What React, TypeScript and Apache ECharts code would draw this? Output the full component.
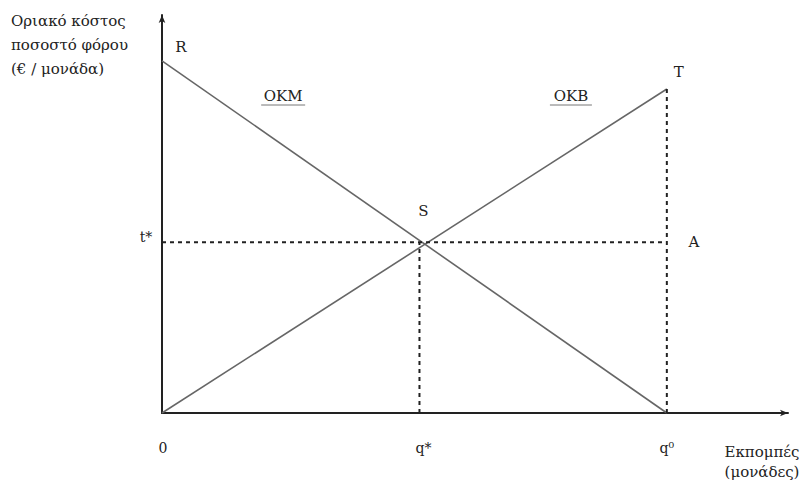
import React, { useEffect, useRef } from "react";
import * as echarts from "echarts";

// Values (axis units)
const xMax = 12.4;
const yMax = 11.3;
const qStar = 5.1;
const q0 = 10;
const tStar = 4.85;
const rValue = 10; // intercept of OKM at q=0
const tValue = 9.2; // OKB at q0
const okmLine: [number, number][] = [[0, rValue], [q0, 0]];
const okbLine: [number, number][] = [[0, 0], [q0, tValue]];
const hDash: [number, number][] = [[0, tStar], [q0, tStar]];
const vDashQStar: [number, number][] = [[qStar, 0], [qStar, tStar]];
const vDashQ0: [number, number][] = [[q0, 0], [q0, tValue]];
const yTitle = ["Οριακό κόστος", "ποσοστό φόρου", "(€ / μονάδα)"];
const xTitle = ["Εκπομπές", "(μονάδες)"];

const FONT = "DejaVu Serif";

export default function App() {
  const ref = useRef<HTMLDivElement>(null);
  useEffect(() => {
    if (!ref.current) return;
    const chart = echarts.init(ref.current, undefined, { renderer: "svg" });
    const dashStyle = { color: "#222", width: 2, type: [4, 4] as any };
    chart.setOption({
      animation: false,
      backgroundColor: "#fff",
      grid: { left: 162, right: 21, top: 15, bottom: 69 },
      xAxis: {
        type: "value",
        min: 0,
        max: xMax,
        axisLine: { show: true, onZero: false, lineStyle: { color: "#222", width: 2 }, symbol: ["none", "arrow"], symbolSize: [5, 8] },
        axisTick: { show: false },
        axisLabel: { show: false },
        splitLine: { show: false },
      },
      yAxis: {
        type: "value",
        min: 0,
        max: yMax,
        axisLine: { show: true, onZero: false, lineStyle: { color: "#222", width: 2 }, symbol: ["none", "arrow"], symbolSize: [5, 8] },
        axisTick: { show: false },
        axisLabel: { show: false },
        splitLine: { show: false },
      },
      series: [
        { type: "line", data: okmLine, showSymbol: false, lineStyle: { color: "#666", width: 1.6 } },
        { type: "line", data: okbLine, showSymbol: false, lineStyle: { color: "#666", width: 1.6 } },
        { type: "line", data: hDash, showSymbol: false, lineStyle: dashStyle },
        { type: "line", data: vDashQStar, showSymbol: false, lineStyle: dashStyle },
        { type: "line", data: vDashQ0, showSymbol: false, lineStyle: dashStyle },
      ],
    });

    const px = (x: number, y: number) => chart.convertToPixel({ gridIndex: 0 }, [x, y]) as number[];
    const o = px(0, 0);
    const r = px(0, rValue);
    const t = px(q0, tValue);
    const s = px(qStar, tStar);
    const a = px(q0, tStar);
    const ts = px(0, tStar);
    const qs = px(qStar, 0);
    const qz = px(q0, 0);
    const okm = px(2.4, 9.0);
    const okb = px(8.1, 9.0);
    const txt = (x: number, y: number, text: string, size = 15, extra: any = {}) => ({
      type: "text",
      x,
      y,
      style: { text, font: `${size}px "${FONT}"`, fill: "#222", textAlign: "center", textVerticalAlign: "middle", ...extra },
    });
    const under = (cx: number, y: number, w: number) => ({
      type: "line",
      shape: { x1: cx - w / 2, y1: y, x2: cx + w / 2, y2: y },
      style: { stroke: "#777", lineWidth: 1 },
    });
    chart.setOption({
      graphic: [
        ...yTitle.map((l, i) => txt(11, 21 + i * 24, l, 15, { textAlign: "left" })),
        txt(r[0] + 19, r[1] - 14, "R"),
        txt(t[0] + 12, t[1] - 17, "T"),
        txt(s[0] + 4, s[1] - 31, "S"),
        txt(a[0] + 27, a[1], "A"),
        txt(ts[0] - 16, ts[1] - 5, "t*", 14),
        txt(o[0] + 1, o[1] + 35, "0", 14),
        txt(qs[0] + 4, qs[1] + 35, "q*", 14),
        txt(qz[0], qz[1] + 35, "q⁰", 14),
        ...xTitle.map((l, i) => txt(762, 452 + i * 20, l, 15)),
        txt(okm[0], okm[1], "ΟΚΜ", 15),
        under(okm[0], okm[1] + 9, 44),
        txt(okb[0], okb[1], "ΟΚΒ", 15),
        under(okb[0], okb[1] + 9, 42),
      ],
    });
    return () => chart.dispose();
  }, []);
  return <div ref={ref} style={{ width: 809, height: 482, position: "absolute", left: 0, top: 0 }} />;
}
